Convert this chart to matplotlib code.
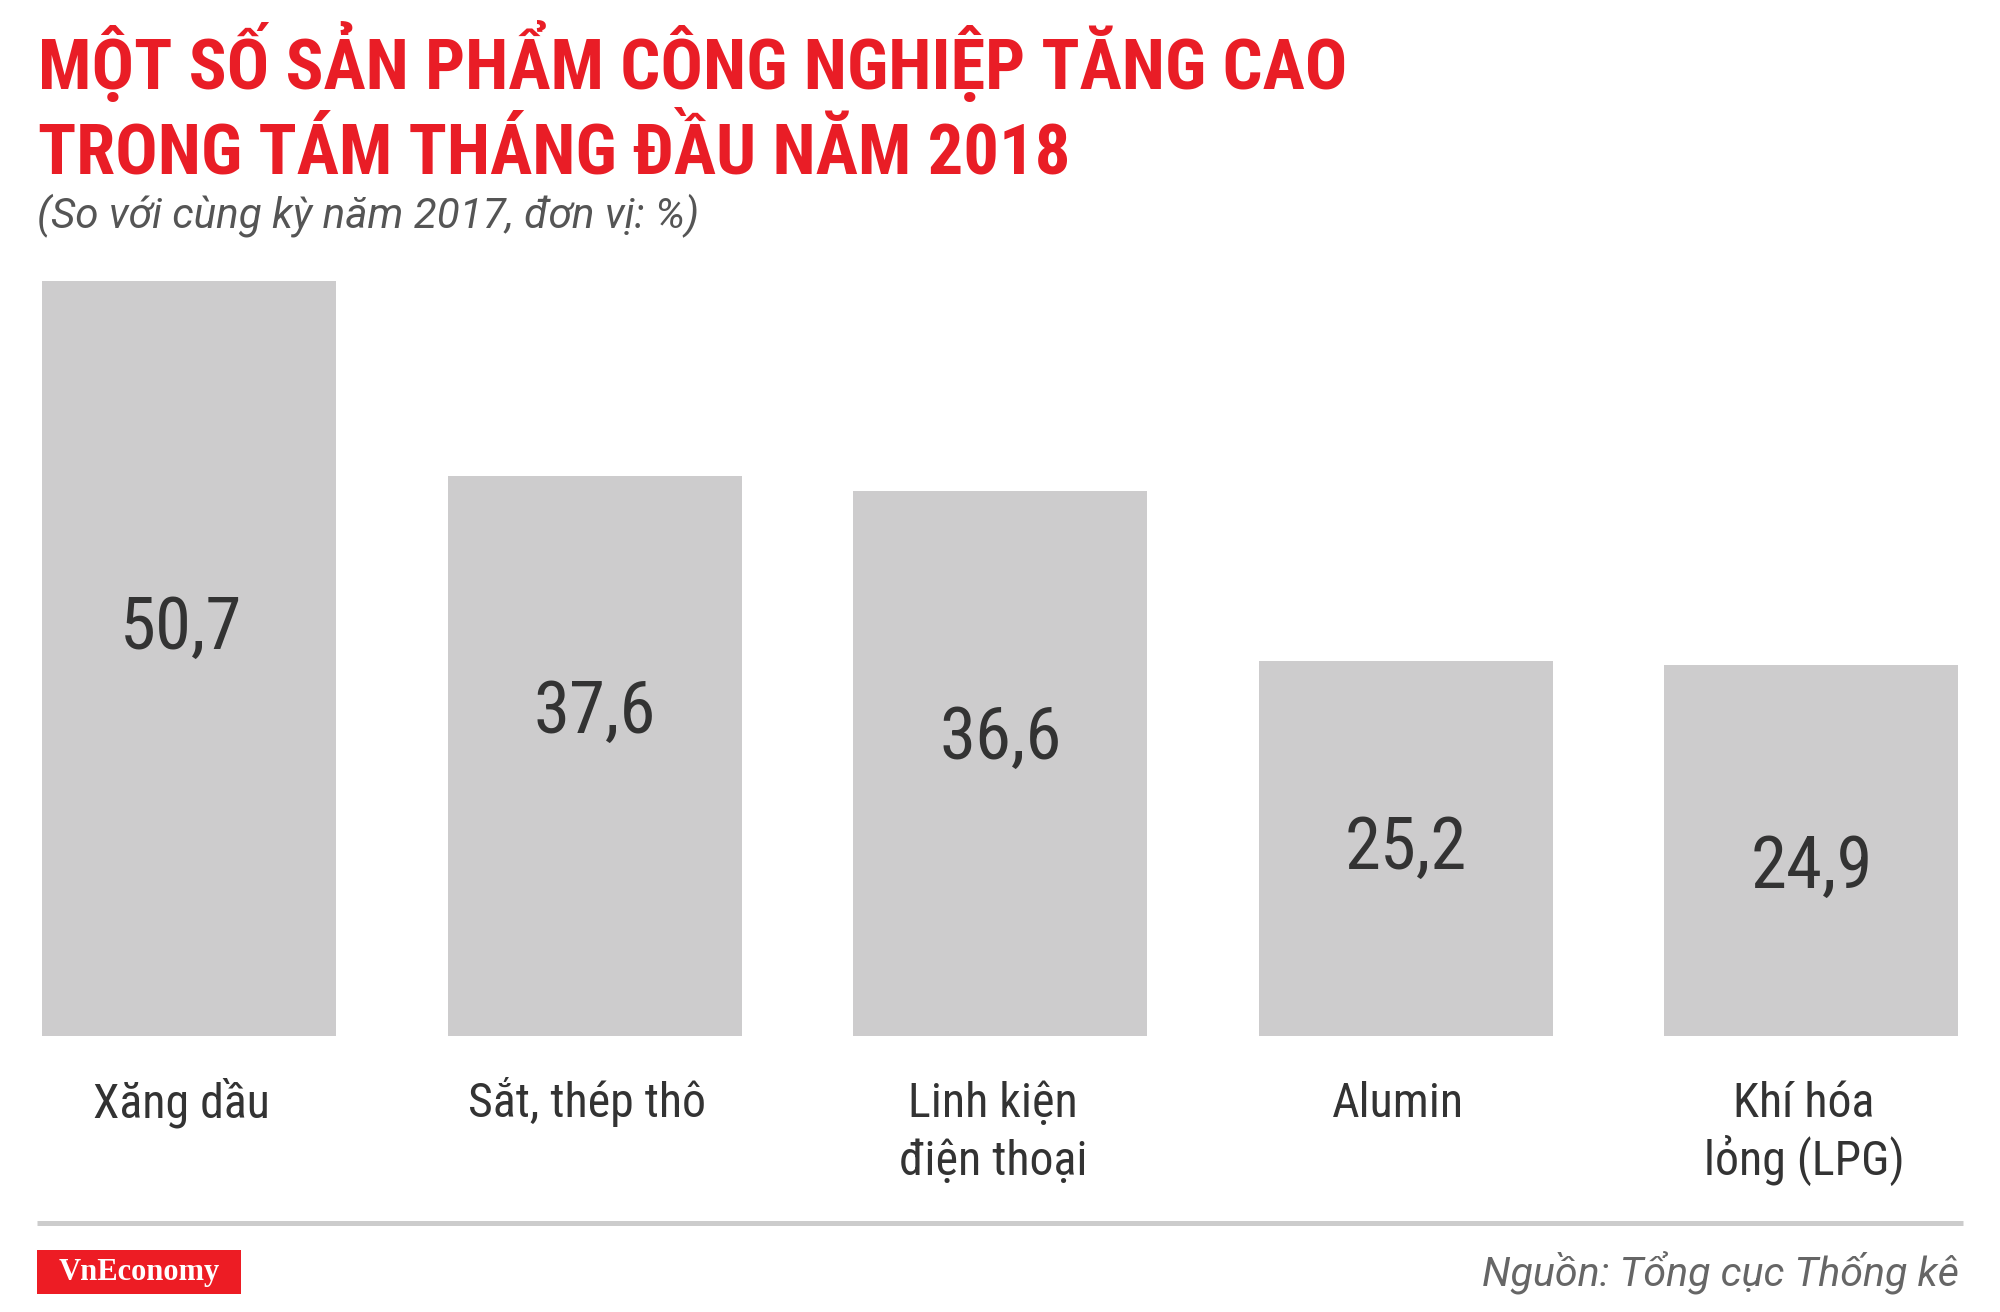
import matplotlib
matplotlib.use("Agg")
import matplotlib.pyplot as plt
from matplotlib import font_manager as fm
from matplotlib.patches import Rectangle
from matplotlib.lines import Line2D
from matplotlib.transforms import blended_transform_factory

# data
categories = ["Xăng dầu", "Sắt, thép thô", "Linh kiện\nđiện thoại", "Alumin", "Khí hóa\nlỏng (LPG)"]
values = [50.7, 37.6, 36.6, 25.2, 24.9]
value_labels = ["50,7", "37,6", "36,6", "25,2", "24,9"]

title_lines = ["MỘT SỐ SẢN PHẨM CÔNG NGHIỆP TĂNG CAO", "TRONG TÁM THÁNG ĐẦU NĂM 2018"]
subtitle = "(So với cùng kỳ năm 2017, đơn vị: %)"
source = "Nguồn: Tổng cục Thống kê"
brand = "VnEconomy"

# layout / style
W, H = 2000, 1312
RED = "#e91d26"
BAR = "#cdcccd"
DARK = "#333333"
PX_PER_UNIT = 14.9
label_frac = [0.547, 0.588, 0.556, 0.513, 0.468]  # where the value sits inside each bar


def pick(cands):
    avail = {f.name for f in fm.fontManager.ttflist}
    for c in cands:
        if c in avail:
            return c
    return "DejaVu Sans"


COND = pick(["Roboto Condensed", "Fira Sans Condensed", "Barlow Semi Condensed"])
ITAL = pick(["Roboto", "Open Sans", "DejaVu Sans"])
SERIF = pick(["Liberation Serif", "Tinos", "DejaVu Serif"])


def fx(px):
    return px / W


def fy(px):
    return 1 - px / H


fig = plt.figure(figsize=(W / 100, H / 100), dpi=100)
fig.patch.set_facecolor("white")

# title block
for k, line in enumerate(title_lines):
    fig.text(fx(38), fy(89 + 85 * k), line, family=COND, fontsize=50.8, weight="bold",
             color=RED, va="baseline", ha="left")
fig.text(fx(37), fy(228), subtitle, family=ITAL, fontsize=30.3, style="italic",
         color="#555555", va="baseline", ha="left")

# bars
base_px = 1036
ylim_top = 55
ax = fig.add_axes([0, (H - base_px) / H, 1, ylim_top * PX_PER_UNIT / H])
x = list(range(len(values)))
ax.bar(x, values, width=0.725, color=BAR, linewidth=0)
ax.set_xlim(-0.466, 4.465)
ax.set_ylim(0, ylim_top)
ax.axis("off")

digit_half = 26 / PX_PER_UNIT
for i, (v, lab) in enumerate(zip(values, value_labels)):
    ax.text(i - (0.02 if i == 0 else 0), v * label_frac[i] - digit_half, lab, family=COND,
            fontsize=52.5, color=DARK, ha="center", va="baseline")

# category labels under the bars
trans = blended_transform_factory(ax.transData, fig.transFigure)
for i, cat in enumerate(categories):
    for j, ln in enumerate(cat.split("\n")):
        ax.text(i - 0.018, fy(1117 + 58 * j), ln, transform=trans, family=COND, fontsize=34.5,
                color=DARK, ha="center", va="baseline", clip_on=False)

# footer
fig.add_artist(Line2D([fx(37), fx(1963)], [fy(1222.5), fy(1222.5)], transform=fig.transFigure,
                      color="#cccccc", linewidth=3.6, solid_capstyle="butt"))
fig.add_artist(Rectangle((fx(37), fy(1294)), fx(204), 44 / H, transform=fig.transFigure,
                         facecolor="#ed1c24", edgecolor="none"))
fig.text(fx(139), fy(1280), brand, family=SERIF, fontsize=22, weight="bold", color="white",
         ha="center", va="baseline")
fig.text(fx(1959), fy(1285), source, family=ITAL, fontsize=29.6, style="italic",
         color="#666666", ha="right", va="baseline")

fig.savefig("out.png", dpi=100, facecolor="white")
